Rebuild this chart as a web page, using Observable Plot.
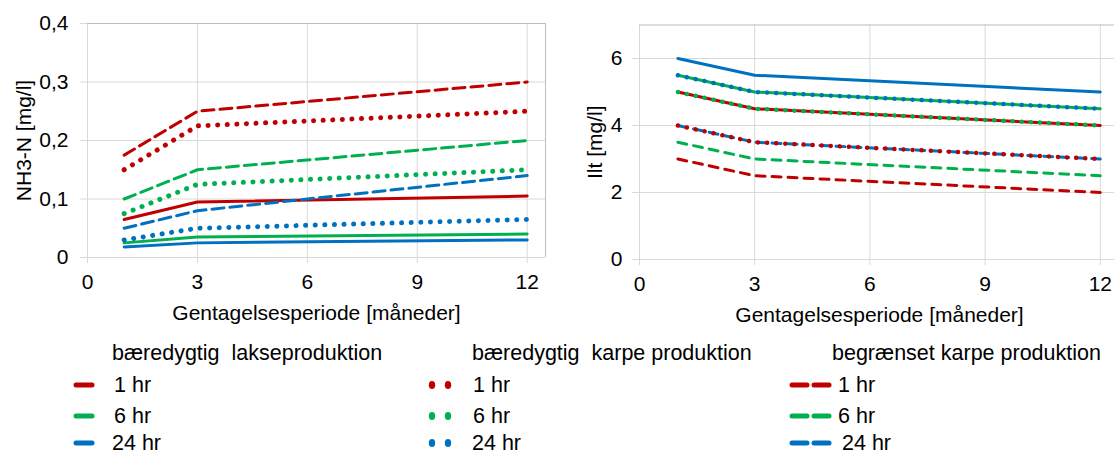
<!DOCTYPE html>
<html><head><meta charset="utf-8">
<script src="https://cdn.jsdelivr.net/npm/d3@7"></script>
<script src="https://cdn.jsdelivr.net/npm/@observablehq/plot@0.6"></script>
<style>
html,body{margin:0;padding:0;background:#fff;overflow:hidden;width:1114px;height:454px;}
#wrap{position:relative;width:1114px;height:454px;overflow:hidden;font-family:"Liberation Sans",Arial,sans-serif;color:#000;}
#left{position:absolute;left:0;top:0;width:560px}
#right{position:absolute;left:555px;top:0;width:575px}
svg{max-width:none !important;}
.lg{position:absolute;font-size:21.5px;line-height:18px;white-space:pre;}
.sw{position:absolute;}
</style></head>
<body><div id="wrap"><div id="left"></div><div id="right"></div><div id="legend"></div></div>
<script>
// ---- data ----
const months = [1, 3, 12];
const durations = ["1 hr", "6 hr", "24 hr"];
const scenarios = ["bæredygtig  lakseproduktion", "bæredygtig  karpe produktion", "begrænset karpe produktion"];
const colors = ["#C00000", "#00B050", "#0070C0"];

// NH3-N [mg/l]
const nh3_laks_1hr = [0.065, 0.095, 0.105];
const nh3_laks_6hr = [0.025, 0.035, 0.040];
const nh3_laks_24hr = [0.018, 0.025, 0.030];
const nh3_karpe_1hr = [0.150, 0.225, 0.250];
const nh3_karpe_6hr = [0.075, 0.125, 0.150];
const nh3_karpe_24hr = [0.030, 0.050, 0.065];
const nh3_begr_1hr = [0.175, 0.250, 0.300];
const nh3_begr_6hr = [0.100, 0.150, 0.200];
const nh3_begr_24hr = [0.050, 0.080, 0.140];

// Ilt [mg/l]
const ilt_laks_1hr = [5.0, 4.5, 4.0];
const ilt_laks_6hr = [5.5, 5.0, 4.5];
const ilt_laks_24hr = [6.0, 5.5, 5.0];
const ilt_karpe_1hr = [4.0, 3.5, 3.0];
const ilt_karpe_6hr = [5.0, 4.5, 4.0];
const ilt_karpe_24hr = [5.5, 5.0, 4.5];
const ilt_begr_1hr = [3.0, 2.5, 2.0];
const ilt_begr_6hr = [3.5, 3.0, 2.5];
const ilt_begr_24hr = [4.0, 3.5, 3.0];

const nh3Ticks = [0, 0.1, 0.2, 0.3, 0.4];
const iltTicks = [0, 2, 4, 6];
const xTicks = [0, 3, 6, 9, 12];

function rows(series) {
  const out = [];
  series.forEach((byDur, si) => byDur.forEach((vals, di) => vals.forEach((v, i) =>
    out.push({scenario: scenarios[si], duration: durations[di], month: months[i], value: v}))));
  return out;
}
const nh3 = rows([
  [nh3_laks_1hr, nh3_laks_6hr, nh3_laks_24hr],
  [nh3_karpe_1hr, nh3_karpe_6hr, nh3_karpe_24hr],
  [nh3_begr_1hr, nh3_begr_6hr, nh3_begr_24hr]]);
const ilt = rows([
  [ilt_laks_1hr, ilt_laks_6hr, ilt_laks_24hr],
  [ilt_karpe_1hr, ilt_karpe_6hr, ilt_karpe_24hr],
  [ilt_begr_1hr, ilt_begr_6hr, ilt_begr_24hr]]);

const grid = "#d9d9d9", frameC = "#bdbdbd";
const comma = d => d === 0 ? "0" : String(d).replace(".", ",");

function chart(data, opts) {
  const lines = (sc, extra) => Plot.line(data.filter(d => d.scenario === sc),
    {x: "month", y: "value", z: "duration", stroke: "duration", ...extra});
  return Plot.plot({
    width: opts.width, height: 335,
    marginLeft: opts.ml, marginRight: opts.mr, marginTop: opts.mt, marginBottom: 335 - opts.y0,
    style: {fontFamily: '"Liberation Sans", Arial, sans-serif', fontSize: "21px", color: "#000", background: "transparent", overflow: "visible"},
    x: {domain: [0, 12.5]},
    y: {domain: opts.ydom},
    color: {domain: durations, range: colors},
    marks: [
      Plot.gridY(opts.yticks, {stroke: grid, strokeOpacity: 1}),
      Plot.gridX(xTicks, {stroke: grid, strokeOpacity: 1}),
      Plot.ruleY([opts.ydom[1]], {stroke: frameC}),
      Plot.ruleX([12.5], {stroke: frameC}),
      Plot.axisY(opts.yticks, {tickSize: 7, tickPadding: opts.ypad, stroke: grid, tickFormat: opts.fmt,
        label: opts.ylabel, labelAnchor: "center", labelArrow: "none", labelOffset: opts.ylo, fontSize: 21}),
      Plot.axisX(xTicks, {tickSize: 6, tickPadding: 11, stroke: grid,
        label: "Gentagelsesperiode [måneder]", labelAnchor: "center", labelArrow: "none", labelOffset: 62, fontSize: 21}),
      lines(scenarios[0], {strokeWidth: 3}),
      lines(scenarios[2], {strokeWidth: 3, strokeDasharray: opts.dash}),
      lines(scenarios[1], {strokeWidth: opts.dotW, strokeDasharray: "0.1," + opts.dotGap, strokeLinecap: "round"})
    ]
  });
}

document.getElementById("left").append(chart(nh3, {
  width: 560, ml: 87, mr: 15, mt: 23, y0: 257, ydom: [0, 0.4], yticks: nh3Ticks,
  fmt: comma, ypad: 12, ylabel: "NH3-N [mg/l]", ylo: 71, dash: "12,6", dotW: 5, dotGap: 9.5
}));
document.getElementById("right").append(chart(ilt, {
  width: 575, ml: 84, mr: 11, mt: 24.5, y0: 259, ydom: [0, 7], yticks: iltTicks,
  fmt: d => String(d), ypad: 10, ylabel: "Ilt [mg/l]", ylo: 52, dash: "9,7", dotW: 4.5, dotGap: 9
}));

// ---- legend ----
const L = document.getElementById("legend");
const headerY = 353, rowY = [385, 416, 443];
const cols = [
  {hx: 112, tx: [114, 114, 112], kind: "solid"},
  {hx: 472, tx: [473, 473, 472], kind: "dot"},
  {hx: 832, tx: [838, 838, 842], kind: "dash"}
];
cols.forEach((c, ci) => {
  const h = document.createElement("div");
  h.className = "lg"; h.textContent = scenarios[ci];
  h.style.left = c.hx + "px"; h.style.top = (headerY - 9) + "px";
  L.append(h);
  durations.forEach((d, di) => {
    const t = document.createElement("div");
    t.className = "lg"; t.textContent = d;
    t.style.left = c.tx[di] + "px"; t.style.top = (rowY[di] - 9) + "px";
    L.append(t);
    const s = d3.create("svg").attr("class", "sw").attr("width", 50).attr("height", 12)
      .style("left", (c.kind === "solid" ? 70 : c.kind === "dot" ? 424 : 785) + "px")
      .style("top", (rowY[di] - 6) + "px");
    if (c.kind === "solid") {
      s.append("line").attr("x1", 6).attr("x2", 22).attr("y1", 6).attr("y2", 6)
        .attr("stroke", colors[di]).attr("stroke-width", 5).attr("stroke-linecap", "round");
    } else if (c.kind === "dot") {
      [8, 24].forEach(cx => s.append("ellipse").attr("cx", cx).attr("cy", 6).attr("rx", 3.2).attr("ry", 4).attr("fill", colors[di]));
    } else {
      [[7, 22], [29, 44]].forEach(([a, b]) => s.append("line").attr("x1", a).attr("x2", b).attr("y1", 6).attr("y2", 6)
        .attr("stroke", colors[di]).attr("stroke-width", 5).attr("stroke-linecap", "round"));
    }
    L.append(s.node());
  });
});
</script></body></html>
